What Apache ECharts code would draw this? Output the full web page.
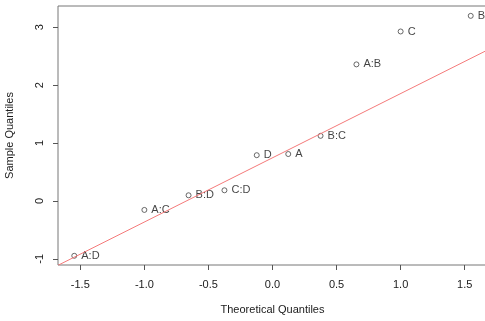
<!DOCTYPE html>
<html><head><meta charset="utf-8">
<script src="https://cdn.jsdelivr.net/npm/echarts@6/dist/echarts.min.js"></script>
<style>html,body{margin:0;padding:0;background:#fff}#c{width:485px;height:321px}</style>
</head><body><div id="c"></div>
<script>
const effectNames = ["A:D","A:C","B:D","C:D","D","A","B:C","A:B","C","B"];
const theoretical = [-1.547,-1.000,-0.655,-0.375,-0.123,0.123,0.375,0.655,1.000,1.547];
const sample = [-0.947,-0.155,0.098,0.184,0.790,0.810,1.124,2.358,2.926,3.196];
const xTicks = [-1.5,-1.0,-0.5,0.0,0.5,1.0,1.5];
const yTicks = [-1,0,1,2,3];
const lineIntercept = 0.745;
const lineSlope = 1.109;
const xMin = -1.674, xMax = 1.674, yMin = -1.106, yMax = 3.366;

const font = '"Liberation Sans", Arial, sans-serif';
const chart = echarts.init(document.getElementById('c'), null, {renderer:'canvas'});
const pts = effectNames.map((n,i)=>({name:n, value:[theoretical[i], sample[i]]}));
const linePts = [[xMin, lineIntercept + lineSlope*xMin],[xMax, lineIntercept + lineSlope*xMax]];
chart.setOption({
  animation:false,
  grid:{left:58, top:6, width:429, height:259, show:true, borderColor:'#777', borderWidth:1,
    containLabel:false, outerBoundsMode:'none'},
  xAxis:{type:'value', min:xMin, max:xMax,
    axisLine:{show:false, onZero:false},
    splitLine:{show:false},
    axisTick:{show:true, length:5, lineStyle:{color:'#555'}, customValues:xTicks},
    axisLabel:{customValues:xTicks, margin:14, color:'#1a1a1a', fontFamily:font, fontSize:11,
      formatter:v=>v.toFixed(1)},
    name:'Theoretical Quantiles', nameLocation:'middle', nameGap:39,
    nameTextStyle:{color:'#1a1a1a', fontFamily:font, fontSize:11}
  },
  yAxis:{type:'value', min:yMin, max:yMax,
    axisLine:{show:false, onZero:false},
    splitLine:{show:false},
    axisTick:{show:true, length:5, lineStyle:{color:'#555'}, customValues:yTicks},
    axisLabel:{customValues:yTicks, margin:13, rotate:90, color:'#1a1a1a', fontFamily:font, fontSize:11,
      formatter:v=>String(v)},
    name:'Sample Quantiles', nameLocation:'middle', nameGap:43,
    nameTextStyle:{color:'#1a1a1a', fontFamily:font, fontSize:11}
  },
  series:[
    {type:'line', data:linePts, symbol:'none', silent:true, clip:true,
      lineStyle:{color:'#f47a7a', width:1}},
    {type:'scatter', data:pts, symbol:'circle', symbolSize:5, clip:false,
      itemStyle:{color:'#fff', borderColor:'#444', borderWidth:1},
      label:{show:true, position:'right', distance:4, formatter:p=>p.name,
        color:'#111', fontFamily:font, fontSize:11}}
  ]
});
</script></body></html>
